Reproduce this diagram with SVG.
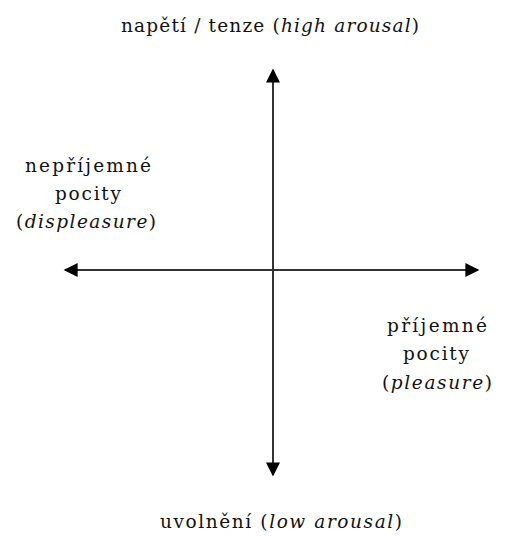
<svg xmlns="http://www.w3.org/2000/svg" width="506" height="536" viewBox="0 0 506 536">
<style>
text { font-family: "DejaVu Serif", serif; font-size: 18.5px; fill: #111; text-anchor: middle; }
.i { font-style: italic; }
.axis { stroke: #333; stroke-width: 2; fill: none; }
</style>
<defs>
<marker id="ah" viewBox="0 0 10 10" refX="9" refY="5" markerWidth="7.5" markerHeight="7" markerUnits="strokeWidth" orient="auto">
<path d="M0,0 L10,5 L0,10 z" fill="#000"/>
</marker>
</defs>
<rect width="506" height="536" fill="#fff"/>
<g id="connectors">
<line class="axis" x1="273" y1="270" x2="273" y2="70" marker-end="url(#ah)"/>
<line class="axis" x1="273" y1="270" x2="273" y2="475" marker-end="url(#ah)"/>
<line class="axis" x1="273" y1="270" x2="65" y2="270" marker-end="url(#ah)"/>
<line class="axis" x1="273" y1="270" x2="478" y2="270" marker-end="url(#ah)"/>
</g>
<g id="top">
<text x="270" y="32" textLength="298" lengthAdjust="spacing">napětí / tenze (<tspan class="i">high arousal</tspan>)</text>
</g>
<g id="left">
<text x="88" y="172" textLength="126" lengthAdjust="spacing">nepříjemné</text>
<text x="88" y="200" textLength="66" lengthAdjust="spacing">pocity</text>
<text x="86" y="228" textLength="140" lengthAdjust="spacing">(<tspan class="i">displeasure</tspan>)</text>
</g>
<g id="right">
<text x="437" y="332" textLength="100" lengthAdjust="spacing">příjemné</text>
<text x="436" y="360" textLength="66" lengthAdjust="spacing">pocity</text>
<text x="437" y="389" textLength="110" lengthAdjust="spacing">(<tspan class="i">pleasure</tspan>)</text>
</g>
<g id="bottom">
<text x="281" y="528" textLength="242" lengthAdjust="spacing">uvolnění (<tspan class="i">low arousal</tspan>)</text>
</g>
</svg>
